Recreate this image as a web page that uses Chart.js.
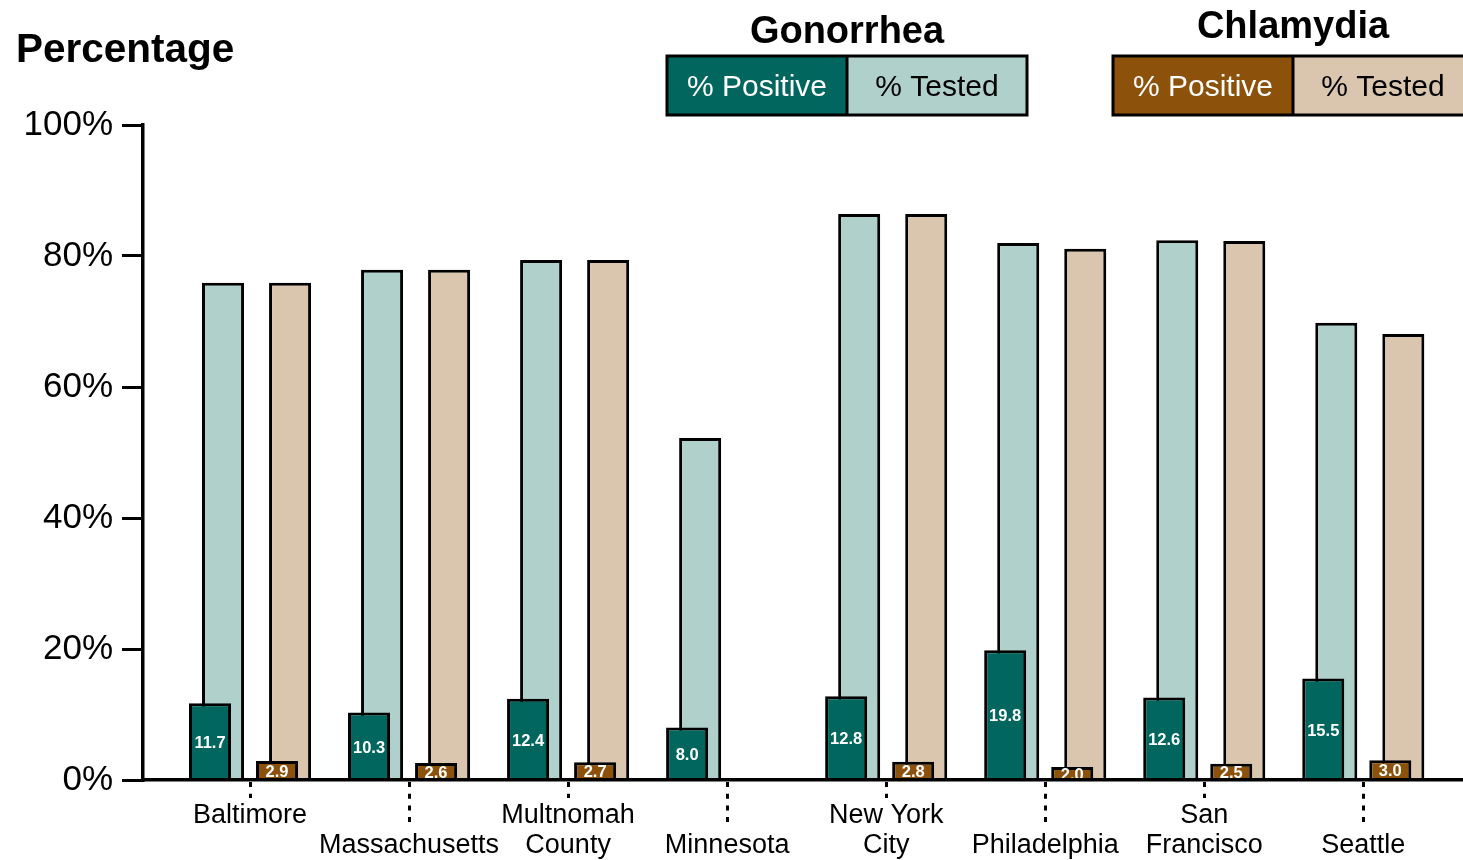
<!DOCTYPE html>
<html>
<head>
<meta charset="utf-8">
<title>Gonorrhea and Chlamydia: % tested and % positive</title>
<script src="https://cdn.jsdelivr.net/npm/chart.js@4.4.0/dist/chart.umd.min.js"></script>
<style>
  html, body { margin: 0; padding: 0; background: #fff; overflow: hidden; }
  #wrap { position: relative; width: 1463px; height: 860px; }
</style>
</head>
<body>
<div id="wrap"><canvas id="chart"></canvas></div>
<script>
//Sites (odd ones are pushed to the second label row)
const sites = ["Baltimore", "Massachusetts", "Multnomah County", "Minnesota",
  "New York City", "Philadelphia", "San Francisco", "Seattle"];
const siteLabels = [["Baltimore"], ["", "Massachusetts"], ["Multnomah", "County"], ["", "Minnesota"],
  ["New York", "City"], ["", "Philadelphia"], ["San", "Francisco"], ["", "Seattle"]];

//Values (percent)
const gonTested = [75.9, 77.9, 79.4, 52.2, 86.4, 82.0, 82.4, 69.8];
const gonPositive = [11.7, 10.3, 12.4, 8.0, 12.8, 19.8, 12.6, 15.5];
const chlTested = [75.9, 77.9, 79.4, null, 86.4, 81.1, 82.3, 68.1];
const chlPositive = [2.9, 2.6, 2.7, null, 2.8, 2.0, 2.5, 3.0];

const yTicks = [0, 20, 40, 60, 80, 100];

const FONT = "'Liberation Sans', Arial, Helvetica, sans-serif";
const darkTeal = "#01665E";
const lightTeal = "#B0D0CC";
const brown = "#8C510A";
const tan = "#DAC6AF";

const toPoints = (arr) => arr.map((v, i) => ({ x: i, y: v }));

//Positive bars sit a bit left of the tested bars, drawn in front of them
const nudgeBars = {
  id: "nudgeBars",
  afterDatasetsUpdate(chart) {
    chart.data.datasets.forEach((ds, i) => {
      const meta = chart.getDatasetMeta(i);
      meta.data.forEach((bar) => {
        bar.x += ds.nudge * bar.width;
      });
    });
  },
};

//White value labels inside the positive bars
const barLabels = {
  id: "barLabels",
  afterDatasetsDraw(chart) {
    const ctx = chart.ctx;
    ctx.save();
    ctx.fillStyle = "#fff";
    ctx.font = "bold 16.5px " + FONT;
    ctx.textAlign = "center";
    ctx.textBaseline = "middle";
    chart.data.datasets.forEach((ds, i) => {
      if (!ds.showValue) return;
      chart.getDatasetMeta(i).data.forEach((bar, j) => {
        const v = ds.data[j].y;
        if (v == null) return;
        ctx.fillText(v.toFixed(1), bar.x, (bar.y + bar.base) / 2 + 2.5);
      });
    });
    ctx.restore();
  },
};

//Dotted tick marks, long ones for the second label row
const dottedTicks = {
  id: "dottedTicks",
  afterDraw(chart) {
    const ctx = chart.ctx;
    const xScale = chart.scales.x;
    const y0 = chart.chartArea.bottom + 2;
    ctx.save();
    ctx.strokeStyle = "#000";
    ctx.lineWidth = 3;
    ctx.setLineDash([5, 6.7]);
    sites.forEach((s, i) => {
      const x = Math.round(xScale.getPixelForValue(i)) + 0.5;
      ctx.beginPath();
      ctx.moveTo(x, y0);
      ctx.lineTo(x, y0 + (i % 2 ? 41 : 16));
      ctx.stroke();
    });
    ctx.restore();
  },
};

//Title and the two boxed legends
const legendGroups = [
  { title: "Gonorrhea", left: 667, titleBase: 43, fills: [darkTeal, lightTeal], inks: ["#fff", "#000"] },
  { title: "Chlamydia", left: 1113, titleBase: 38, fills: [brown, tan], inks: ["#fff", "#000"] },
];
const legendItems = ["% Positive", "% Tested"];

const headers = {
  id: "headers",
  afterDraw(chart) {
    const ctx = chart.ctx;
    ctx.save();
    ctx.fillStyle = "#000";
    ctx.font = "bold 40.5px " + FONT;
    ctx.textAlign = "left";
    ctx.textBaseline = "alphabetic";
    ctx.fillText("Percentage", 16, 62);

    const cellW = 180, top = 56, h = 59;
    legendGroups.forEach((g) => {
      ctx.fillStyle = "#000";
      ctx.font = "bold 38px " + FONT;
      ctx.textAlign = "center";
      ctx.textBaseline = "alphabetic";
      ctx.fillText(g.title, g.left + cellW, g.titleBase);
      legendItems.forEach((txt, k) => {
        const x = g.left + k * cellW;
        ctx.fillStyle = g.fills[k];
        ctx.fillRect(x, top, cellW, h);
        ctx.fillStyle = g.inks[k];
        ctx.font = "30px " + FONT;
        ctx.textBaseline = "middle";
        ctx.fillText(txt, x + cellW / 2, top + h / 2 + 2);
      });
      ctx.strokeStyle = "#000";
      ctx.lineWidth = 3;
      ctx.strokeRect(g.left, top, cellW * 2, h);
      ctx.beginPath();
      ctx.moveTo(g.left + cellW, top);
      ctx.lineTo(g.left + cellW, top + h);
      ctx.stroke();
    });
    ctx.restore();
  },
};

const barStyle = {
  borderColor: "#000",
  borderWidth: 3,
  borderSkipped: "start",
  categoryPercentage: 0.843,
  barPercentage: 0.627,
};

new Chart(document.getElementById("chart"), {
  type: "bar",
  data: {
    datasets: [
      { label: "Gonorrhea % Positive", data: toPoints(gonPositive), stack: "gon", backgroundColor: darkTeal, nudge: -0.155, showValue: true, ...barStyle },
      { label: "Chlamydia % Positive", data: toPoints(chlPositive), stack: "chl", backgroundColor: brown, nudge: -0.155, showValue: true, ...barStyle },
      { label: "Gonorrhea % Tested", data: toPoints(gonTested), stack: "gon", backgroundColor: lightTeal, nudge: 0.155, ...barStyle },
      { label: "Chlamydia % Tested", data: toPoints(chlTested), stack: "chl", backgroundColor: tan, nudge: 0.155, ...barStyle },
    ],
  },
  options: {
    responsive: true,
    maintainAspectRatio: false,
    animation: false,
    layout: { padding: { top: 125, right: 0, bottom: 0, left: 0 } },
    plugins: {
      legend: { display: false },
      tooltip: { enabled: false },
      title: { display: false },
    },
    scales: {
      x: {
        type: "linear",
        bounds: "data",
        offset: false,
        min: -0.673,
        max: 7.627,
        stacked: true,
        afterBuildTicks: (axis) => {
          axis.ticks = sites.map((s, i) => ({ value: i }));
        },
        afterFit: (axis) => {
          axis.height = 80;
        },
        grid: { display: false, drawTicks: false },
        border: { display: true, color: "#000", width: 3.5, z: 1 },
        ticks: {
          autoSkip: false,
          maxRotation: 0,
          padding: 21,
          color: "#000",
          font: { family: FONT, size: 27, lineHeight: 1.11 },
          callback: (value) => siteLabels[value],
        },
      },
      y: {
        min: 0,
        max: 100,
        stacked: false,
        afterBuildTicks: (axis) => {
          axis.ticks = yTicks.map((v) => ({ value: v }));
        },
        afterFit: (axis) => {
          axis.width = 143;
        },
        grid: { display: true, drawOnChartArea: false, drawTicks: true, tickLength: 21, lineWidth: 3, color: "#000" },
        border: { display: true, color: "#000", width: 3.5 },
        ticks: {
          padding: 9,
          color: "#000",
          font: { family: FONT, size: 35 },
          callback: (v) => v + "%",
        },
      },
    },
  },
  plugins: [nudgeBars, barLabels, dottedTicks, headers],
});
</script>
</body>
</html>
